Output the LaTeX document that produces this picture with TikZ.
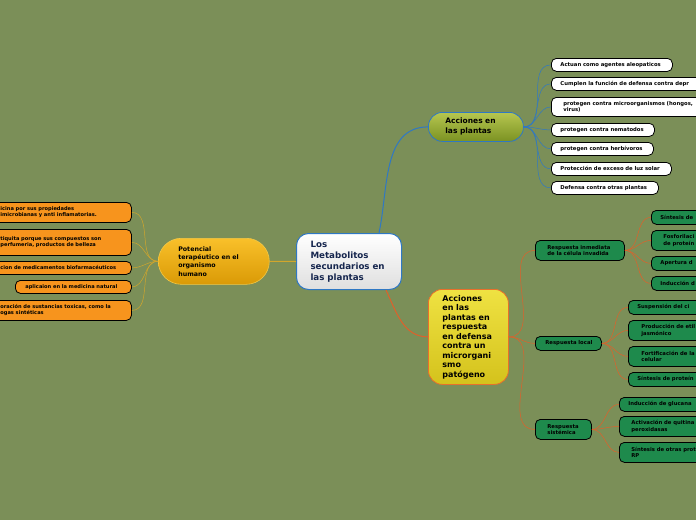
\documentclass[tikz,border=0pt]{standalone}
\usepackage{fontspec}
\setmainfont{DejaVu Sans}
\usetikzlibrary{shadings}
\hyphenpenalty=10000
\exhyphenpenalty=10000
\definecolor{bg}{HTML}{7B8F58}
\definecolor{blueline}{HTML}{2F78C4}
\definecolor{redline}{HTML}{E0602A}
\definecolor{yelline}{HTML}{D2A62C}
\definecolor{greenbox}{HTML}{1E8A4C}
\definecolor{orangebox}{HTML}{F7941D}
\definecolor{navy}{HTML}{16264E}
\definecolor{accTop}{HTML}{B6C650}
\definecolor{accBot}{HTML}{7B9222}
\definecolor{potTop}{HTML}{F9C02A}
\definecolor{potBot}{HTML}{DA9A06}
\definecolor{potLine}{HTML}{F3C846}
\definecolor{defTop}{HTML}{EFE242}
\definecolor{defBot}{HTML}{D4C21C}
\definecolor{defLine}{HTML}{E8702A}
\begin{document}
\begin{tikzpicture}[x=1pt,y=1pt,
  base/.style={anchor=north west,align=left,font=\bfseries,inner ysep=0pt},
  leafw/.style={base,draw=black,line width=0.8pt,fill=white,rounded corners=5pt,font=\fontsize{5.3}{6.3}\selectfont\bfseries},
  leafo/.style={base,draw=black,line width=0.8pt,fill=orangebox,rounded corners=5pt,font=\fontsize{5.1}{6.2}\selectfont\bfseries},
  leafg/.style={base,draw=black,line width=0.8pt,fill=greenbox,rounded corners=5pt,font=\fontsize{5.3}{6.3}\selectfont\bfseries},
  bluel/.style={draw=blueline,line width=0.5pt},
  redl/.style={draw=redline,line width=0.5pt},
  yell/.style={draw=yelline,line width=0.5pt}]
\useasboundingbox (0,0) rectangle (696,-520);
\clip (0,0) rectangle (696,-520);
\fill[bg] (0,0) rectangle (696,-520);

% main nodes
\node[base,draw=blueline,line width=1pt,rounded corners=12pt,top color=white,bottom color=gray!25,
  minimum width=105,minimum height=56,inner xsep=14pt,text width=77pt,text=navy,
  font=\fontsize{8.7}{11}\selectfont\bfseries] (c) at (296,-233) {Los\\Metabolitos\\secundarios en\\las plantas};
\node[base,draw=potLine,line width=0.6pt,rounded corners=23pt,top color=potTop,bottom color=potBot,
  minimum width=111,minimum height=46,inner xsep=20pt,text width=71pt,
  font=\fontsize{6.3}{8.3}\selectfont\bfseries] (p) at (158,-238) {Potencial\\terapéutico en el\\organismo\\humano};
\node[base,draw=blueline,line width=0.8pt,rounded corners=14pt,top color=accTop,bottom color=accBot,
  minimum width=95,minimum height=29,inner xsep=17pt,text width=61pt,
  font=\fontsize{7.5}{10}\selectfont\bfseries] (a) at (428,-112) {Acciones en\\las plantas};
\node[base,draw=defLine,line width=0.8pt,rounded corners=14pt,top color=defTop,bottom color=defBot,
  minimum width=80,minimum height=95,inner xsep=14pt,text width=52pt,
  font=\fontsize{8}{9.5}\selectfont\bfseries] (d) at (428,-289) {Acciones\\en las\\plantas en\\respuesta\\en defensa\\contra un\\microrgani\\smo\\patógeno};

% main connectors
\draw[yelline,line width=1pt] (c.west) -- (p.east);
\draw[blueline,line width=1pt] (c.north east) ++(-23,0) to[out=78,in=180] (a.west);
\draw[redline,line width=1pt] (c.south east) ++(-16,0) to[out=-65,in=180] (d.west);

% white leaves
\node[leafw,minimum width=121,minimum height=13,inner xsep=9pt,text width=103pt] (w1) at (551,-58) {Actuan como agentes aleopaticos};
\node[leafw,minimum width=200,minimum height=13,inner xsep=9pt,text width=182pt] (w2) at (551,-77) {Cumplen la función de defensa contra depr};
\node[leafw,minimum width=200,minimum height=19,inner xsep=12pt,text width=176pt] (w3) at (551,-97) {protegen contra microorganismos (hongos,\\virus)};
\node[leafw,minimum width=103,minimum height=13,inner xsep=9pt,text width=85pt] (w4) at (551,-123) {protegen contra nematodos};
\node[leafw,minimum width=102,minimum height=13,inner xsep=9pt,text width=84pt] (w5) at (551,-142) {protegen contra herbívoros};
\node[leafw,minimum width=120,minimum height=13,inner xsep=9pt,text width=102pt] (w6) at (551,-162) {Protección de exceso de luz solar};
\node[leafw,minimum width=107,minimum height=13,inner xsep=9pt,text width=89pt] (w7) at (551,-181) {Defensa contra otras plantas};
\foreach \n in {w1,w2,w3,w4,w5,w6,w7} \draw[bluel] (a.east) to[out=0,in=180] (\n.west);

% orange leaves
\node[leafo,minimum width=141,minimum height=20,inner xsep=10pt,text width=121pt] (o1) at (-10,-202) {icina por sus propiedades\\imicrobianas y anti inflamatorias.};
\node[leafo,minimum width=141,minimum height=26,inner xsep=10pt,text width=121pt] (o2) at (-10,-229) {tiquita porque sus compuestos son\\perfumeria, productos de belleza};
\node[leafo,minimum width=141,minimum height=13,inner xsep=10pt,text width=121pt] (o3) at (-10,-261) {cion de medicamentos biofarmacéuticos};
\node[leafo,minimum width=116,minimum height=13,inner xsep=10pt,text width=96pt] (o4) at (15,-280) {aplicaion en la medicina natural};
\node[leafo,minimum width=141,minimum height=20,inner xsep=10pt,text width=121pt] (o5) at (-10,-300) {oración de sustancias toxicas, como la\\ogas sintéticas};
\foreach \n in {o1,o2,o3,o4,o5} \draw[yell] (p.west) to[out=180,in=0] (\n.east);

% green level 1
\node[leafg,minimum width=89,minimum height=20,inner xsep=12pt,text width=65pt] (g1) at (535,-240) {Respuesta inmediata\\de la célula invadida};
\node[leafg,minimum width=66,minimum height=14,inner xsep=8pt,text width=50pt] (g2) at (535,-336) {\hspace*{2pt}Respuesta~local};
\node[leafg,minimum width=56,minimum height=20,inner xsep=12pt,text width=32pt] (g3) at (535,-419) {Respuesta\\sistémica};
\foreach \n in {g1,g2,g3} \draw[redl] (d.east) to[out=0,in=180] (\n.west);

% green level 2
\node[leafg,minimum width=80,minimum height=14,inner xsep=9pt,text width=62pt] (a1) at (651,-210) {Síntesis de};
\node[leafg,minimum width=80,minimum height=20,inner xsep=12pt,text width=56pt] (a2) at (651,-230) {Fosforilaci\\de proteín};
\node[leafg,minimum width=80,minimum height=14,inner xsep=9pt,text width=62pt] (a3) at (651,-256) {Apertura d};
\node[leafg,minimum width=80,minimum height=14,inner xsep=9pt,text width=62pt] (a4) at (651,-276) {Inducción d};
\foreach \n in {a1,a2,a3,a4} \draw[redl] (g1.east) to[out=0,in=180] (\n.west);

\node[leafg,minimum width=90,minimum height=14,inner xsep=9pt,text width=72pt] (b1) at (628,-300) {Suspensión del ci};
\node[leafg,minimum width=90,minimum height=20,inner xsep=13pt,text width=64pt] (b2) at (628,-320) {Producción de etil\\jasmónico};
\node[leafg,minimum width=90,minimum height=20,inner xsep=13pt,text width=64pt] (b3) at (628,-346) {Fortificación de la\\celular};
\node[leafg,minimum width=90,minimum height=14,inner xsep=9pt,text width=72pt] (b4) at (628,-372) {Síntesis de proteín};
\foreach \n in {b1,b2,b3,b4} \draw[redl] (g2.east) to[out=0,in=180] (\n.west);

\node[leafg,minimum width=100,minimum height=14,inner xsep=9pt,text width=82pt] (c1) at (619,-397) {Inducción de glucana};
\node[leafg,minimum width=100,minimum height=20,inner xsep=12pt,text width=76pt] (c2) at (619,-416) {Activación de quitina\\peroxidasas};
\node[leafg,minimum width=100,minimum height=20,inner xsep=12pt,text width=76pt] (c3) at (619,-442) {Síntesis de otras prot\\RP};
\foreach \n in {c1,c2,c3} \draw[redl] (g3.east) to[out=0,in=180] (\n.west);
\end{tikzpicture}
\end{document}
